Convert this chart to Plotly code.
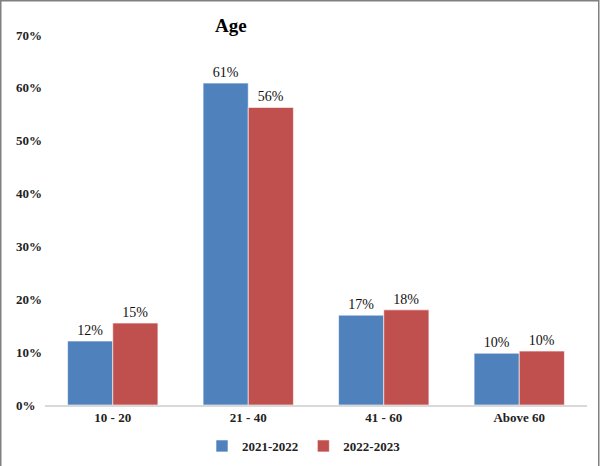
import plotly.graph_objects as go

categories = ["10 - 20", "21 - 40", "41 - 60", "Above 60"]
series_names = ["2021-2022", "2022-2023"]
values_2021 = [0.121, 0.609, 0.170, 0.098]
values_2022 = [0.155, 0.563, 0.180, 0.102]
labels_2021 = ["12%", "61%", "17%", "10%"]
labels_2022 = ["15%", "56%", "18%", "10%"]
y_ticks = [0, 0.1, 0.2, 0.3, 0.4, 0.5, 0.6, 0.7]
y_tick_labels = ["0%", "10%", "20%", "30%", "40%", "50%", "60%", "70%"]

colors = ["#4F81BD", "#C0504D"]
FONT = "Liberation Serif"

W, H = 600, 466
L, R, T, B = 45, 13, 35, 61
pw, ph = W - L - R, H - T - B

fig = go.Figure()
for name, vals, labs, col in [(series_names[0], values_2021, labels_2021, colors[0]),
                              (series_names[1], values_2022, labels_2022, colors[1])]:
    fig.add_trace(go.Bar(
        x=categories, y=vals, name="<b>" + name + "</b>", text=labs,
        textposition="outside", cliponaxis=False,
        textfont=dict(family=FONT, size=14, color="#111"),
        marker=dict(color=col, line=dict(color="rgba(255,255,255,0.6)", width=1)),
    ))

annotations = []
for v, t in zip(y_ticks, y_tick_labels):
    annotations.append(dict(x=-31 / pw, xref="paper", y=v, yref="y", text="<b>" + t + "</b>",
                            showarrow=False, xanchor="left", yanchor="middle",
                            font=dict(family=FONT, size=13, color="#222")))
annotations.append(dict(x=(231 - L) / pw, xref="paper", y=(H - B - 25) / ph, yref="paper",
                        text="<b>Age</b>", showarrow=False, xanchor="center", yanchor="middle",
                        font=dict(family=FONT, size=19, color="#000")))

fig.update_layout(
    width=W, height=H,
    margin=dict(l=L, r=R, t=T, b=B, pad=0, autoexpand=False),
    paper_bgcolor="white", plot_bgcolor="white",
    barmode="group", bargap=1/3, bargroupgap=0,
    showlegend=True,
    legend=dict(orientation="h", xref="container", yref="container",
                x=304 / W, xanchor="center", y=1 - 446 / H, yanchor="middle",
                font=dict(family=FONT, size=13, color="#222"), bgcolor="rgba(0,0,0,0)",
                itemwidth=30, traceorder="normal"),
    xaxis=dict(showgrid=False, showline=True, linecolor="#D9D9D9", linewidth=1.5,
               ticks="", tickfont=dict(family=FONT, size=13, color="#222"),
               tickprefix="<b>", ticksuffix="</b>", automargin=False),
    yaxis=dict(range=[0, 0.7], showgrid=False, zeroline=False, showticklabels=False,
               tickvals=y_ticks, automargin=False),
    annotations=annotations,
    shapes=[dict(type="rect", xref="paper", yref="paper",
                 x0=(-L + 0.75) / pw, x1=(W - L - 1.25) / pw,
                 y0=-(B + 2) / ph, y1=1 + (T - 0.75) / ph,
                 line=dict(color="#808080", width=1.5), fillcolor="rgba(0,0,0,0)", layer="above")],
)

fig.write_html("out.html", config={"displayModeBar": False},
               post_script="document.body.style.margin='0';document.body.style.overflow='hidden';")
